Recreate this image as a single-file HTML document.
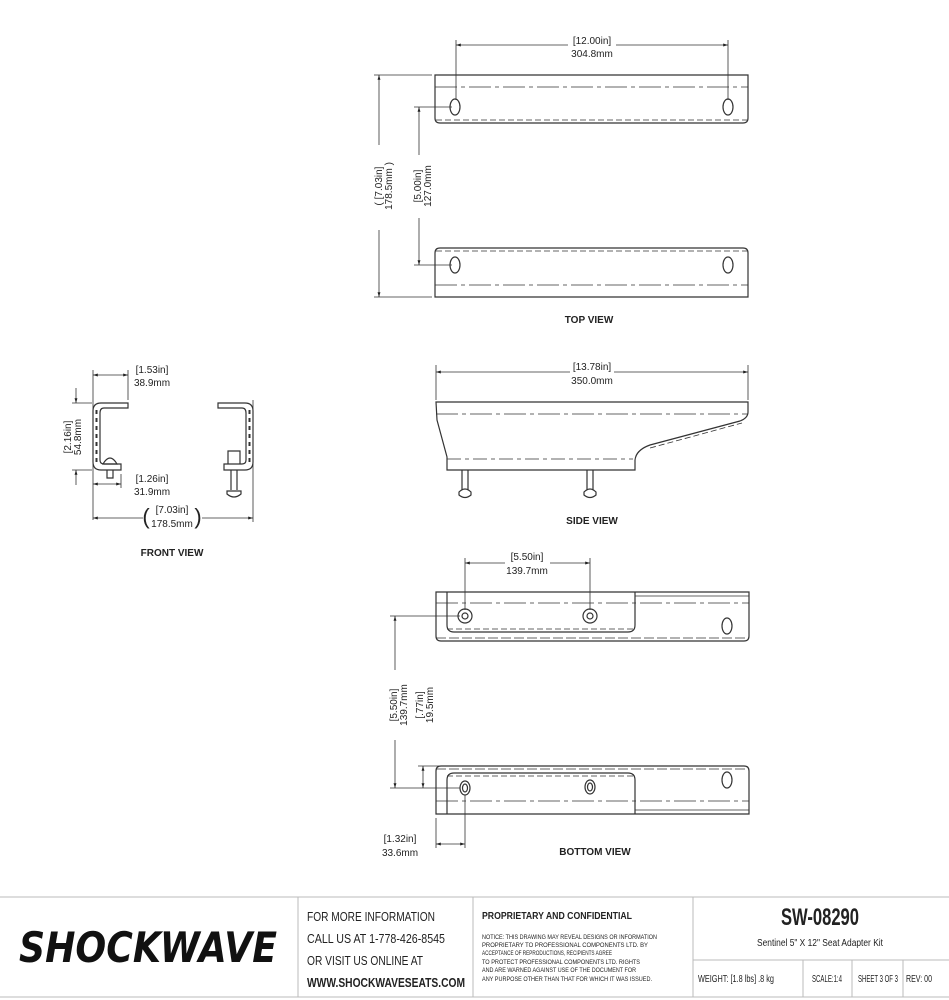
<!DOCTYPE html>
<html><head><meta charset="utf-8"><style>
html,body{margin:0;padding:0;background:#fff;width:949px;height:1000px;overflow:hidden}
svg{display:block}
text{font-family:"Liberation Sans",sans-serif;fill:#222}
.d{font-size:10px}
.lbl{font-size:10px;font-weight:bold;font-family:"Liberation Sans Narrow","Liberation Sans",sans-serif}
</style></head><body>
<svg width="949" height="1000" viewBox="0 0 949 1000" xmlns="http://www.w3.org/2000/svg">
<defs>
<marker id="a" viewBox="0 0 10 10" refX="10" refY="5" markerWidth="6" markerHeight="6" orient="auto-start-reverse"><path d="M0,2 L10,5 L0,8 z" fill="#222"/></marker>
</defs>
<g fill="none" stroke="#333" stroke-width="1.2">
<!-- TOP VIEW -->
<path d="M435,75 H748 V118 Q748,123 743,123 H440 Q435,123 435,118 Z"/>
<line x1="436" y1="120" x2="747" y2="120" stroke-dasharray="6,3" stroke-width="0.8"/>
<line x1="435" y1="87" x2="748" y2="87" stroke-dasharray="22,4,4,4" stroke-width="0.8"/>
<ellipse cx="455" cy="107" rx="5" ry="8"/><ellipse cx="728" cy="107" rx="5" ry="8"/>
<path d="M440,248 H743 Q748,248 748,253 V297 H435 V253 Q435,248 440,248 Z"/>
<line x1="436" y1="251" x2="747" y2="251" stroke-dasharray="6,3" stroke-width="0.8"/>
<line x1="435" y1="285" x2="748" y2="285" stroke-dasharray="22,4,4,4" stroke-width="0.8"/>
<ellipse cx="455" cy="265" rx="5" ry="8"/><ellipse cx="728" cy="265" rx="5" ry="8"/>
<!-- SIDE VIEW -->
<path d="M436,402 H748 V412 Q748,418 740,421 L650,445 Q636,450 635,460 V470 H447 V457 L437,420 Z"/>
<line x1="436" y1="414" x2="748" y2="414" stroke-dasharray="22,4,4,4" stroke-width="0.8"/>
<line x1="447" y1="459" x2="633" y2="459" stroke-dasharray="14,4,4,4" stroke-width="0.8"/>
<line x1="650" y1="448" x2="742" y2="423" stroke-dasharray="6,3" stroke-width="0.8"/>
<path d="M462,470 V490 M468,470 V490 M459,492 Q465,486 471,492 V495 Q465,500 459,495 Z"/>
<path d="M587,470 V490 M593,470 V490 M584,492 Q590,486 596,492 V495 Q590,500 584,495 Z"/>
<!-- FRONT VIEW -->
<path d="M128,403 H101 Q93,403 93,411 V462 Q93,470 101,470 H121 V464 H104 Q100,464 100,460 V413 Q100,408 104,408 H128 Z"/>
<line x1="96.5" y1="410" x2="96.5" y2="462" stroke-dasharray="4,4" stroke-width="2"/>
<path d="M103,464 Q110,452 117,464 Z M107,470 V478 H113 V470"/>
<path d="M218,403 H245 Q253,403 253,411 V462 Q253,470 245,470 H224 V464 H242 Q246,464 246,460 V413 Q246,408 242,408 H218 Z"/>
<line x1="249.5" y1="410" x2="249.5" y2="462" stroke-dasharray="4,4" stroke-width="2"/>
<path d="M228,464 V451 H240 V464 M231,470 V490 M237,470 V490 M227,491 H241 V494 Q234,500 227,494 Z"/>
<!-- BOTTOM VIEW -->
<path d="M436,592 H749 V636 Q749,641 744,641 H441 Q436,641 436,636 Z"/>
<path d="M447,592 V625 Q447,632 454,632 H628 Q635,632 635,625 V592"/>
<line x1="436" y1="603" x2="749" y2="603" stroke-dasharray="22,4,4,4" stroke-width="0.8"/>
<line x1="447" y1="629" x2="635" y2="629" stroke-dasharray="6,3" stroke-width="0.8"/>
<line x1="436" y1="638" x2="749" y2="638" stroke-dasharray="10,3" stroke-width="0.8"/>
<line x1="635" y1="596" x2="749" y2="596" stroke-width="0.8"/>
<circle cx="465" cy="616" r="7"/><circle cx="465" cy="616" r="3"/>
<circle cx="590" cy="616" r="7"/><circle cx="590" cy="616" r="3"/>
<ellipse cx="727" cy="626" rx="5" ry="8"/>
<path d="M441,766 H744 Q749,766 749,771 V814 H436 V771 Q436,766 441,766 Z"/>
<path d="M447,814 V780 Q447,773 454,773 H628 Q635,773 635,780 V814"/>
<line x1="436" y1="769" x2="749" y2="769" stroke-dasharray="10,3" stroke-width="0.8"/>
<line x1="447" y1="776" x2="635" y2="776" stroke-dasharray="6,3" stroke-width="0.8"/>
<line x1="436" y1="801" x2="749" y2="801" stroke-dasharray="22,4,4,4" stroke-width="0.8"/>
<line x1="635" y1="810" x2="749" y2="810" stroke-width="0.8"/>
<ellipse cx="465" cy="788" rx="5" ry="7"/><ellipse cx="465" cy="788" rx="2.5" ry="4"/>
<ellipse cx="590" cy="787" rx="5" ry="7"/><ellipse cx="590" cy="787" rx="2.5" ry="4"/>
<ellipse cx="727" cy="780" rx="5" ry="8"/>
</g>
<!-- DIMENSIONS -->
<g stroke="#333" stroke-width="0.8" fill="none">
<path d="M456,40 V100 M728,40 V100 M374,75 H432 M374,297 H432 M414,107 H452 M414,265 H452"/>
<line x1="456" y1="45" x2="568" y2="45" marker-start="url(#a)"/><line x1="616" y1="45" x2="728" y2="45" marker-end="url(#a)"/>
<line x1="379" y1="75" x2="379" y2="145" marker-start="url(#a)"/><line x1="379" y1="230" x2="379" y2="297" marker-end="url(#a)"/>
<line x1="419" y1="107" x2="419" y2="155" marker-start="url(#a)"/><line x1="419" y1="218" x2="419" y2="265" marker-end="url(#a)"/>
<path d="M436,365 V400 M748,365 V400"/>
<line x1="436" y1="372" x2="570" y2="372" marker-start="url(#a)"/><line x1="614" y1="372" x2="748" y2="372" marker-end="url(#a)"/>
<path d="M93,370 V520 M128,370 V400 M253,400 V522 M121,474 V488 M72,403 H92 M72,470 H92"/>
<line x1="93" y1="375" x2="128" y2="375" marker-start="url(#a)" marker-end="url(#a)"/>
<line x1="76" y1="388" x2="76" y2="403" marker-end="url(#a)"/><line x1="76" y1="485" x2="76" y2="470" marker-end="url(#a)"/>
<line x1="93" y1="484" x2="121" y2="484" marker-start="url(#a)" marker-end="url(#a)"/>
<line x1="93" y1="518" x2="143" y2="518" marker-start="url(#a)"/><line x1="202" y1="518" x2="253" y2="518" marker-end="url(#a)"/>
<path d="M465,558 V610 M590,558 V610 M390,616 H460 M390,788 H460 M418,766 H440 M436,818 V848 M465,795 V848"/>
<line x1="465" y1="563" x2="505" y2="563" marker-start="url(#a)"/><line x1="550" y1="563" x2="590" y2="563" marker-end="url(#a)"/>
<line x1="395" y1="616" x2="395" y2="670" marker-start="url(#a)"/><line x1="395" y1="740" x2="395" y2="788" marker-end="url(#a)"/>
<line x1="423" y1="766" x2="423" y2="788" marker-start="url(#a)" marker-end="url(#a)"/>
<line x1="436" y1="844" x2="465" y2="844" marker-start="url(#a)" marker-end="url(#a)"/>
</g>
<g class="d" text-anchor="middle">
<text x="592" y="44">[12.00in]</text><text x="592" y="57">304.8mm</text>
<text transform="translate(382,186) rotate(-90)">( [7.03in]</text><text transform="translate(392,186) rotate(-90)">178.5mm )</text>
<text transform="translate(421,186) rotate(-90)">[5.00in]</text><text transform="translate(431,186) rotate(-90)">127.0mm</text>
<text x="592" y="370">[13.78in]</text><text x="592" y="384">350.0mm</text>
<text x="152" y="373">[1.53in]</text><text x="152" y="386">38.9mm</text>
<text transform="translate(71,437) rotate(-90)">[2.16in]</text><text transform="translate(81,437) rotate(-90)">54.8mm</text>
<text x="152" y="482">[1.26in]</text><text x="152" y="495">31.9mm</text>
<text x="172" y="513">[7.03in]</text><text x="172" y="527">178.5mm</text>
<text x="146" y="524" font-size="22" font-weight="normal">(</text><text x="198" y="524" font-size="22">)</text>
<text x="527" y="560">[5.50in]</text><text x="527" y="574">139.7mm</text>
<text transform="translate(397,705) rotate(-90)">[5.50in]</text><text transform="translate(407,705) rotate(-90)">139.7mm</text>
<text transform="translate(423,705) rotate(-90)">[.77in]</text><text transform="translate(433,705) rotate(-90)">19.5mm</text>
<text x="400" y="842">[1.32in]</text><text x="400" y="856">33.6mm</text>
</g>
<g class="lbl" text-anchor="middle">
<text x="589" y="323">TOP VIEW</text>
<text x="592" y="524">SIDE VIEW</text>
<text x="172" y="556">FRONT VIEW</text>
<text x="595" y="855">BOTTOM VIEW</text>
</g>
<!-- TITLE BLOCK -->
<g stroke="#bbb" stroke-width="1" fill="none">
<line x1="0" y1="897" x2="949" y2="897"/><line x1="0" y1="997" x2="949" y2="997"/>
<path d="M298,897 V997 M473,897 V997 M693,897 V997 M693,960 H949 M803,960 V997 M852,960 V997 M903,960 V997"/>
</g>
<text x="148" y="962" text-anchor="middle" font-size="42" font-weight="bold" font-style="italic" style="font-family:'DejaVu Sans',sans-serif;fill:#111" textLength="258" lengthAdjust="spacingAndGlyphs">SHOCKWAVE</text>
<g font-size="13" style="font-family:'Liberation Sans Narrow','Liberation Sans',sans-serif">
<text x="307" y="921" textLength="128" lengthAdjust="spacingAndGlyphs">FOR MORE INFORMATION</text>
<text x="307" y="943" textLength="138" lengthAdjust="spacingAndGlyphs">CALL US AT 1-778-426-8545</text>
<text x="307" y="965" textLength="116" lengthAdjust="spacingAndGlyphs">OR VISIT US ONLINE AT</text>
<text x="307" y="987" font-weight="bold" textLength="158" lengthAdjust="spacingAndGlyphs">WWW.SHOCKWAVESEATS.COM</text>
</g>
<g style="font-family:'Liberation Sans Narrow','Liberation Sans',sans-serif">
<text x="482" y="919" font-size="10" font-weight="bold" textLength="150" lengthAdjust="spacingAndGlyphs">PROPRIETARY AND CONFIDENTIAL</text>
<g font-size="6.5">
<text x="482" y="939" textLength="175" lengthAdjust="spacingAndGlyphs">NOTICE: THIS DRAWING MAY REVEAL DESIGNS OR INFORMATION</text>
<text x="482" y="947" textLength="166" lengthAdjust="spacingAndGlyphs">PROPRIETARY TO PROFESSIONAL COMPONENTS LTD.  BY</text>
<text x="482" y="955" textLength="130" lengthAdjust="spacingAndGlyphs">ACCEPTANCE OF REPRODUCTIONS, RECIPIENTS AGREE</text>
<text x="482" y="964" textLength="158" lengthAdjust="spacingAndGlyphs">TO PROTECT PROFESSIONAL COMPONENTS LTD. RIGHTS</text>
<text x="482" y="972" textLength="154" lengthAdjust="spacingAndGlyphs">AND ARE WARNED AGAINST USE OF THE DOCUMENT FOR</text>
<text x="482" y="981" textLength="170" lengthAdjust="spacingAndGlyphs">ANY PURPOSE OTHER THAN THAT FOR WHICH IT WAS ISSUED.</text>
</g>
<text x="820" y="925" text-anchor="middle" font-size="24" font-weight="bold" textLength="78" lengthAdjust="spacingAndGlyphs">SW-08290</text>
<text x="820" y="946" text-anchor="middle" font-size="10" textLength="126" lengthAdjust="spacingAndGlyphs">Sentinel 5" X 12" Seat Adapter Kit</text>
<g font-size="10">
<text x="698" y="982" textLength="76" lengthAdjust="spacingAndGlyphs">WEIGHT: [1.8 lbs] .8 kg</text>
<text x="827" y="982" text-anchor="middle" textLength="30" lengthAdjust="spacingAndGlyphs">SCALE:1:4</text>
<text x="878" y="982" text-anchor="middle" textLength="40" lengthAdjust="spacingAndGlyphs">SHEET 3 OF 3</text>
<text x="919" y="982" text-anchor="middle" textLength="26" lengthAdjust="spacingAndGlyphs">REV: 00</text>
</g>
</g>
</svg>
</body></html>
